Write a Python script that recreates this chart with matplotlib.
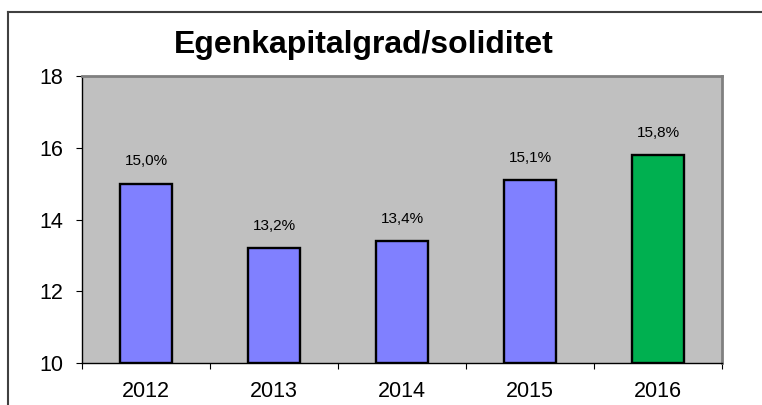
import matplotlib.pyplot as plt
from matplotlib.lines import Line2D

years = ["2012", "2013", "2014", "2015", "2016"]
values = [15.0, 13.2, 13.4, 15.1, 15.8]
labels = ["15,0%", "13,2%", "13,4%", "15,1%", "15,8%"]
colors = ["#8080FF", "#8080FF", "#8080FF", "#8080FF", "#00B050"]

plt.rcParams['font.family'] = ['Liberation Sans', 'DejaVu Sans']

fig = plt.figure(figsize=(7.62, 4.05), dpi=100)
W, H = 762, 405
ax = fig.add_axes([82 / W, 1 - 363 / H, (722 - 82) / W, (363 - 76) / H])
ax.set_facecolor("#C0C0C0")

x_pos = list(range(len(years)))
ax.bar(x_pos, [v - 10 for v in values], bottom=10, width=0.41,
       color=colors, edgecolor="black", linewidth=1.7, zorder=2)

for x, v, lab in zip(x_pos, values, labels):
	ax.annotate(lab, (x, v), xytext=(0, 11), textcoords="offset points",
	            ha="center", va="bottom", fontsize=11)

ax.set_xlim(-0.5, len(years) - 0.5)
ax.set_ylim(10, 18)
ax.set_yticks([10, 12, 14, 16, 18])
ax.tick_params(axis="y", labelsize=15.5, length=4.5, direction="out", pad=9)

# category labels between boundary ticks
ax.set_xticks([i - 0.5 for i in range(len(years) + 1)])
ax.set_xticklabels([])
ax.set_xticks(x_pos, minor=True)
ax.set_xticklabels(years, minor=True)
ax.tick_params(axis="x", which="major", length=4.5, direction="out")
ax.tick_params(axis="x", which="minor", length=0, labelsize=15.5, pad=13)

for side in ["left", "bottom"]:
	ax.spines[side].set_color("black")
	ax.spines[side].set_linewidth(1.0)
for side in ["top", "right"]:
	ax.spines[side].set_color("#808080")
	ax.spines[side].set_linewidth(2.0)

fig.text(364 / W, 1 - 45 / H, "Egenkapitalgrad/soliditet", ha="center", va="center",
         fontsize=23, fontweight="bold")

# outer chart frame
fig.add_artist(Line2D([8 / W, 1.0], [1 - 12 / H, 1 - 12 / H], color="#404040", linewidth=1.5))
fig.add_artist(Line2D([8 / W, 8 / W], [0.0, 1 - 12 / H], color="#404040", linewidth=1.5))

plt.savefig("out.png", dpi=100)
